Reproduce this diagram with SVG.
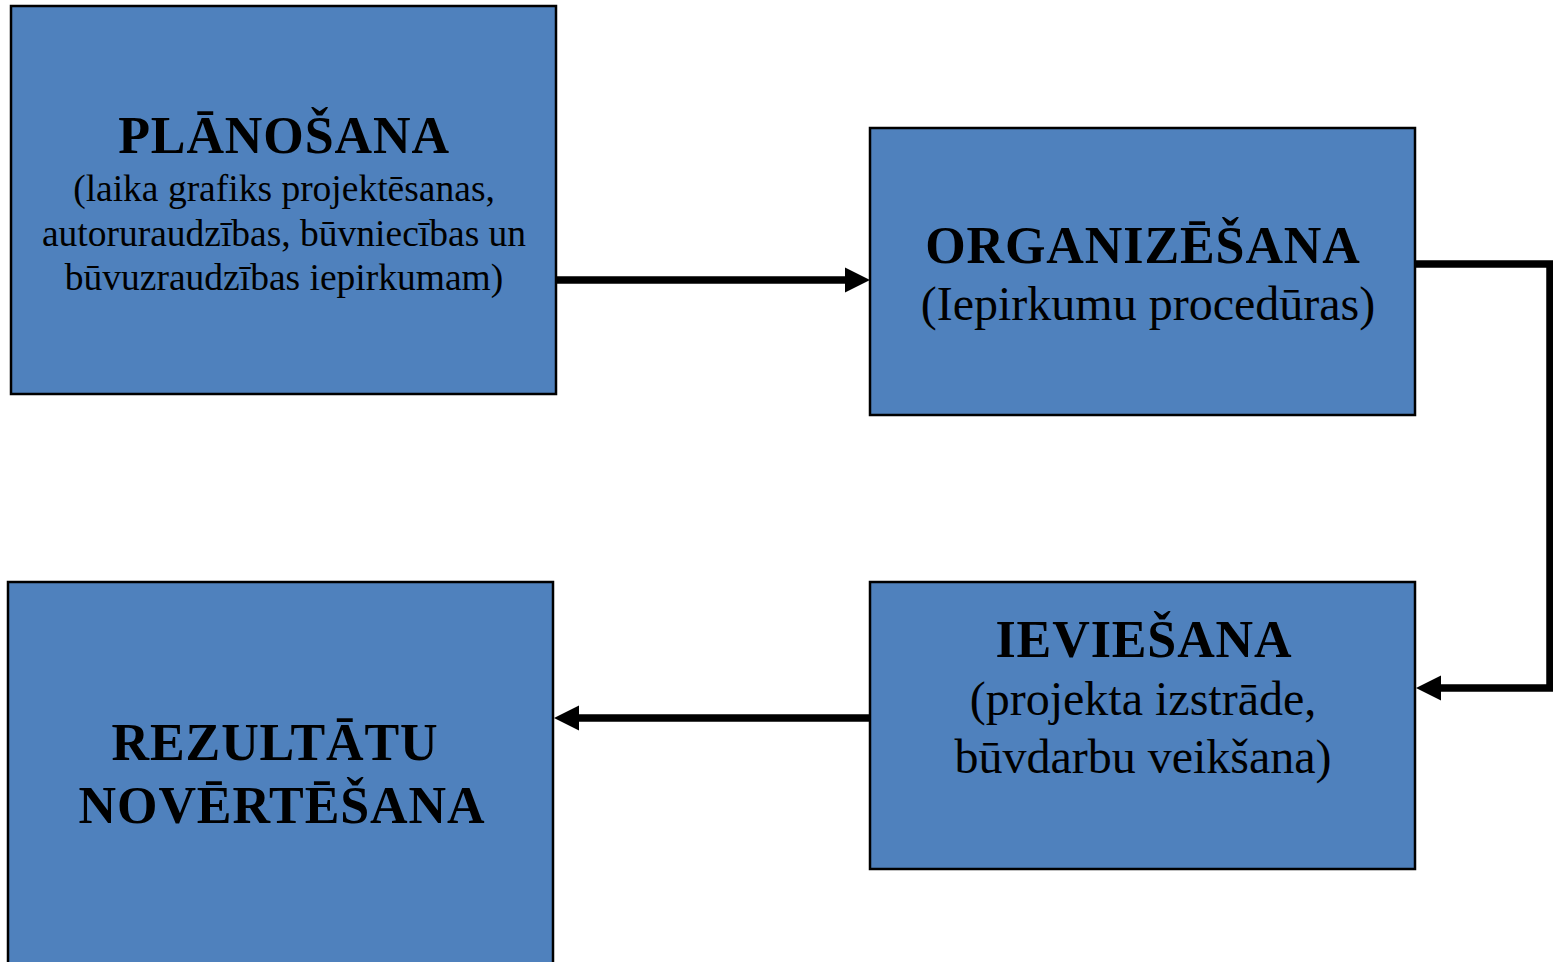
<svg xmlns="http://www.w3.org/2000/svg" width="1553" height="962" viewBox="0 0 1553 962">
<defs>
<style>
.box{fill:#4F81BD;stroke:#000;stroke-width:2.5}
.t{font-family:"Liberation Serif","Times New Roman",serif;font-weight:bold;font-size:52px;letter-spacing:0.9px;fill:#000;text-anchor:middle}
.s{font-family:"Liberation Serif","Times New Roman",serif;font-size:37.5px;fill:#000;text-anchor:middle}
.s2{font-family:"Liberation Serif","Times New Roman",serif;font-size:48px;fill:#000;text-anchor:middle}
.c{fill:none;stroke:#000;stroke-width:7.5}
</style>
<marker id="ah" viewBox="0 0 25 25" refX="5" refY="12.5" markerWidth="25" markerHeight="25" markerUnits="userSpaceOnUse" orient="auto" overflow="visible">
<path d="M0,0 L25,12.5 L0,25 Z" fill="#000"/>
</marker>
</defs>
<rect width="1553" height="962" fill="#fff"/>
<g id="connectors">
<path class="c" d="M554,280 H850" marker-end="url(#ah)"/>
<path class="c" d="M1416,264 H1550 V688 H1436" marker-end="url(#ah)"/>
<path class="c" d="M870,718 H574" marker-end="url(#ah)"/>
</g>
<g id="node-planosana">
<rect class="box" x="11" y="6" width="545" height="388"/>
<text class="t" x="284" y="153">PLĀNOŠANA</text>
<text class="s" x="284" y="201">(laika grafiks projektēsanas,</text>
<text class="s" x="284" y="246">autoruraudzības, būvniecības un</text>
<text class="s" x="284" y="290">būvuzraudzības iepirkumam)</text>
</g>
<g id="node-organizesana">
<rect class="box" x="870" y="128" width="545" height="287"/>
<text class="t" x="1143" y="263">ORGANIZĒŠANA</text>
<text class="s2" x="1148" y="320">(Iepirkumu procedūras)</text>
</g>
<g id="node-ieviesana">
<rect class="box" x="870" y="582" width="545" height="287"/>
<text class="t" x="1144" y="657">IEVIEŠANA</text>
<text class="s2" x="1143" y="715">(projekta izstrāde,</text>
<text class="s2" x="1143" y="773">būvdarbu veikšana)</text>
</g>
<g id="node-rezultatu">
<rect class="box" x="8" y="582" width="545" height="400"/>
<text class="t" x="275" y="760">REZULTĀTU</text>
<text class="t" x="282" y="823">NOVĒRTĒŠANA</text>
</g>
</svg>
